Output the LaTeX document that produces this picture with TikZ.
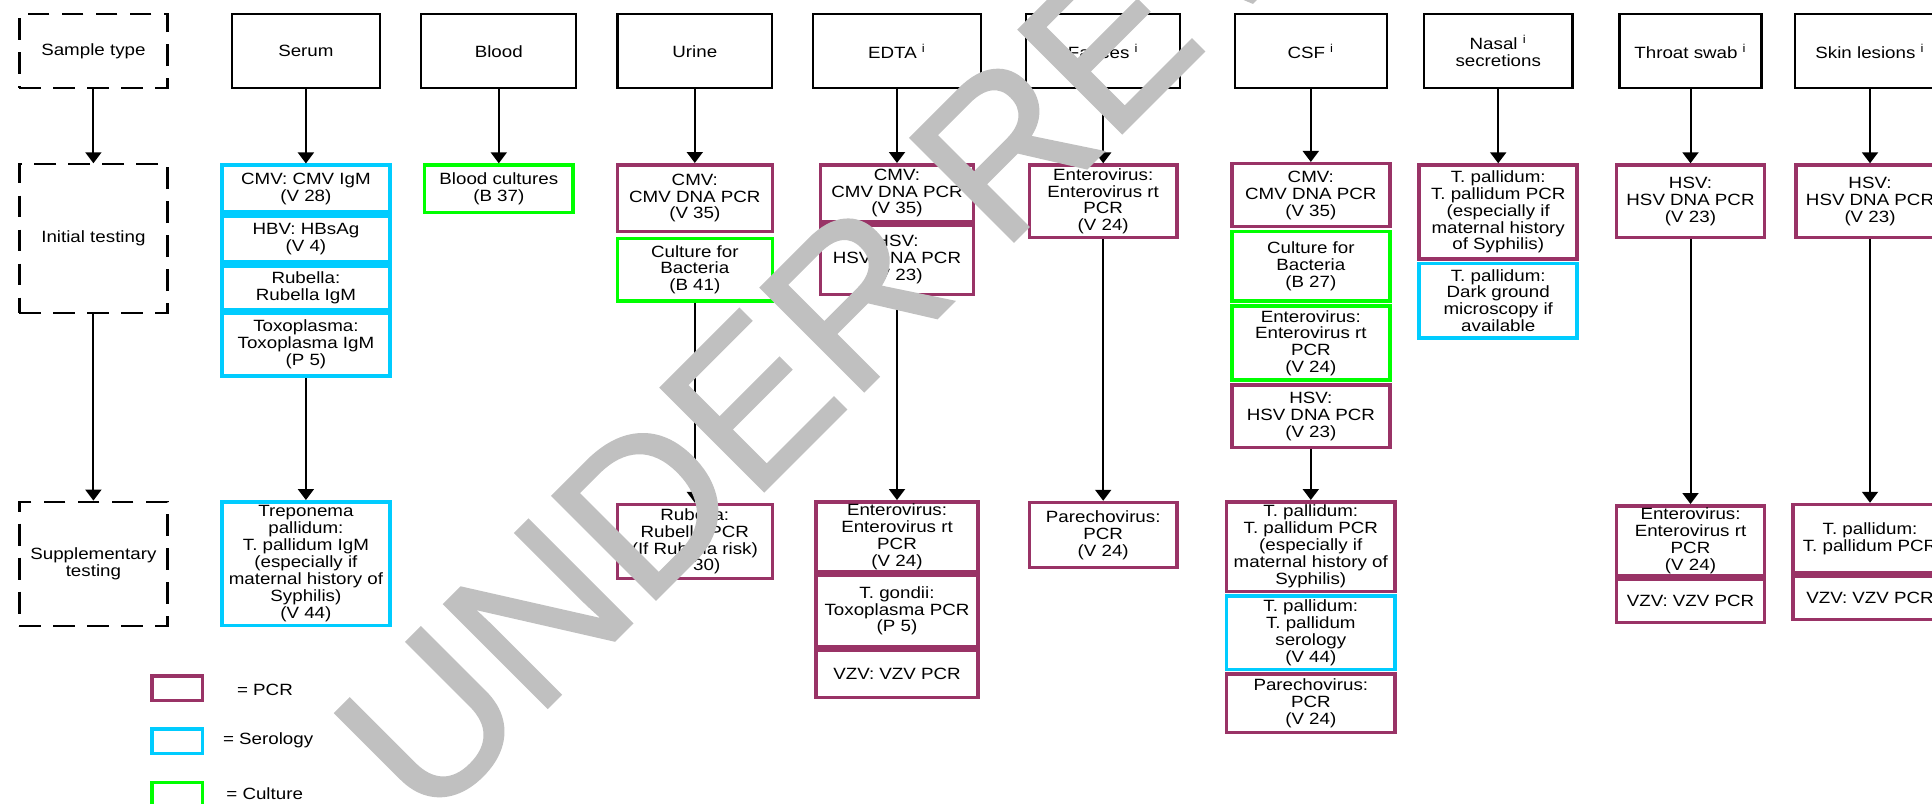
\documentclass[tikz,border=0pt]{standalone}
\usepackage{fontspec}
\setmainfont{Liberation Sans}[FakeStretch=1.15]
\newfontfamily\markfont{Liberation Sans}[FakeBold=1.3]
\usetikzlibrary{arrows.meta}
\definecolor{pcrcol}{RGB}{153,51,102}
\definecolor{serocol}{RGB}{0,204,255}
\definecolor{cultcol}{RGB}{0,255,0}
\definecolor{markgray}{RGB}{192,192,192}

\begin{document}
\begin{tikzpicture}[x=0.5pt, y=-0.5pt, >={Triangle[width=8pt,length=5.5pt]},
    font=\fontsize{8.15}{8.45}\selectfont,
    boxsize/.style 2 args={minimum width=#1*0.5pt, minimum height=#2*0.5pt},
    head_style/.style={rectangle,draw=black,line width=1.1pt,inner sep=0.5pt,align=center},
    dash_style/.style={head_style,dash pattern=on 10.9pt off 6.1pt},
    test_style/.style={rectangle,line width=1.75pt,inner sep=0.5pt,align=center},
    pcr_style/.style={test_style,draw=pcrcol},
    sero_style/.style={test_style,draw=serocol},
    cult_style/.style={test_style,draw=cultcol},
    key_style/.style={anchor=west,inner sep=0pt},
    edge_style/.style={draw=black,line width=1pt},
    mark_style/.style={text=markgray,font=\markfont\fontsize{106}{106}\selectfont,inner sep=0pt}]
  \useasboundingbox (0,0) rectangle (1932,803);
  \clip (0,0) rectangle (1932,803);
  \fill[white] (0,0) rectangle (1932,803);
  % sample types
  \draw
    (93.4,51.2) node[dash_style,boxsize={148}{74}] (sampletype){Sample type}
    (305.9,51.2) node[head_style,boxsize={148}{74}] (serum){Serum}
    (498.8,51.2) node[head_style,boxsize={155}{74}] (blood){Blood}
    (694.8,51.2) node[head_style,boxsize={154.5}{74}] (urine){Urine}
    (897,51.2) node[head_style,boxsize={168.6}{74}] (edta){EDTA \textsuperscript{i}}
    (1103.2,51.2) node[head_style,boxsize={154}{74}] (faeces){Faeces \textsuperscript{i}}
    (1310.8,51.2) node[head_style,boxsize={152}{74}] (csf){CSF \textsuperscript{i}}
    (1498.2,51.2) node[head_style,boxsize={148.5}{74}] (nasal){Nasal \textsuperscript{i}\\secretions}
    (1690.5,51.2) node[head_style,boxsize={142}{74}] (throat){Throat swab \textsuperscript{i}}
    (1870,51.2) node[head_style,boxsize={150}{74}] (skin){Skin lesions \textsuperscript{i}}
    (93.4,238.7) node[dash_style,boxsize={148}{148.7}] (initialtest){Initial testing}
    (93.4,563.7) node[dash_style,boxsize={148}{124}] (supptest){Supplementary\\testing};
  % serum and blood
  \draw
    (305.9,188.7) node[sero_style,boxsize={168}{47}] (serumcmv){CMV: CMV IgM\\(V 28)}
    (305.9,239.2) node[sero_style,boxsize={168}{46}] (serumhbv){HBV: HBsAg\\(V 4)}
    (305.9,287.5) node[sero_style,boxsize={168}{43.5}] (serumrub){Rubella:\\Rubella IgM}
    (305.9,344.4) node[sero_style,boxsize={168}{63.2}] (serumtoxo){Toxoplasma:\\Toxoplasma IgM\\(P 5)}
    (305.9,563.5) node[sero_style,boxsize={168}{123.5}] (serumtp){Treponema\\pallidum:\\T. pallidum IgM\\(especially if\\maternal history of\\Syphilis)\\(V 44)}
    (498.8,188.8) node[cult_style,boxsize={148.5}{47.5}] (bloodcult){Blood cultures\\(B 37)};
  % urine and EDTA
  \draw
    (694.8,198) node[pcr_style,boxsize={155}{66.5}] (urinecmv){CMV:\\CMV DNA PCR\\(V 35)}
    (694.8,269.7) node[cult_style,boxsize={155}{62.5}] (urinecult){Culture for\\Bacteria\\(B 41)}
    (694.8,541.4) node[pcr_style,boxsize={155}{73.8}] (urinerub){Rubella:\\Rubella PCR\\(If Rubella risk)\\(V 30)}
    (897,193) node[pcr_style,boxsize={152.7}{56.5}] (edtacmv){CMV:\\CMV DNA PCR\\(V 35)}
    (897,259.5) node[pcr_style,boxsize={152.7}{69.5}] (edtahsv){HSV:\\HSV DNA PCR\\(V 23)}
    (897,536.7) node[pcr_style,boxsize={162}{69.8}] (edtaentero){Enterovirus:\\Enterovirus rt\\PCR\\(V 24)}
    (897,610.8) node[pcr_style,boxsize={162}{71.5}] (edtatg){T. gondii:\\Toxoplasma PCR\\(P 5)}
    (897,673.8) node[pcr_style,boxsize={162}{47.5}] (edtavzv){VZV: VZV PCR};
  % faeces and CSF
  \draw
    (1103.2,201.3) node[pcr_style,boxsize={147.8}{72.5}] (faecesentero){Enterovirus:\\Enterovirus rt\\PCR\\(V 24)}
    (1103.2,535) node[pcr_style,boxsize={147.8}{65}] (faecespareco){Parechovirus:\\PCR\\(V 24)}
    (1310.8,195.2) node[pcr_style,boxsize={158}{63}] (csfcmv){CMV:\\CMV DNA PCR\\(V 35)}
    (1310.8,266) node[cult_style,boxsize={158}{69.5}] (csfcult){Culture for\\Bacteria\\(B 27)}
    (1310.8,343.2) node[cult_style,boxsize={158}{74}] (csfentero){Enterovirus:\\Enterovirus rt\\PCR\\(V 24)}
    (1310.8,416.2) node[pcr_style,boxsize={158}{62.8}] (csfhsv){HSV:\\HSV DNA PCR\\(V 23)}
    (1310.8,546.5) node[pcr_style,boxsize={168.8}{89.5}] (csftp){T. pallidum:\\T. pallidum PCR\\(especially if\\maternal history of\\Syphilis)}
    (1310.8,632.5) node[sero_style,boxsize={168.8}{73.5}] (csfsero){T. pallidum:\\T. pallidum\\serology\\(V 44)}
    (1310.8,703.2) node[pcr_style,boxsize={168.8}{58.8}] (csfpareco){Parechovirus:\\PCR\\(V 24)};
  % nasal, throat and skin
  \draw
    (1498.2,211.9) node[pcr_style,boxsize={158}{93.7}] (nasaltp){T. pallidum:\\T. pallidum PCR\\(especially if\\maternal history\\of Syphilis)}
    (1498.2,300.6) node[sero_style,boxsize={158}{74.7}] (nasaldark){T. pallidum:\\Dark ground\\microscopy if\\available}
    (1690.5,201.3) node[pcr_style,boxsize={148}{72.5}] (throathsv){HSV:\\HSV DNA PCR\\(V 23)}
    (1690.5,540.5) node[pcr_style,boxsize={148}{69.5}] (throatentero){Enterovirus:\\Enterovirus rt\\PCR\\(V 24)}
    (1690.5,600.7) node[pcr_style,boxsize={148}{43.8}] (throatvzv){VZV: VZV PCR}
    (1870,201.3) node[pcr_style,boxsize={148.5}{72.5}] (skinhsv){HSV:\\HSV DNA PCR\\(V 23)}
    (1870,538.4) node[pcr_style,boxsize={154.5}{67.8}] (skintp){T. pallidum:\\T. pallidum PCR}
    (1870,597.5) node[pcr_style,boxsize={154.5}{43.5}] (skinvzv){VZV: VZV PCR};
  % key
  \draw
    (177.2,688.3) node[pcr_style,boxsize={50.7}{24.5}] (keypcr){}
    (177.2,741.2) node[sero_style,boxsize={50.7}{24.5}] (keysero){}
    (177.2,794.7) node[cult_style,boxsize={50.7}{24.5}] (keycult){}
    (236.7,690) node[key_style] (keypcrtext){= PCR}
    (222.7,740) node[key_style] (keyserotext){= Serology}
    (226,794) node[key_style] (keyculttext){= Culture};
  \begin{scope}[->]
    \draw[edge_style] (sampletype) to (initialtest);
    \draw[edge_style] (initialtest) to (supptest);
    \draw[edge_style] (serum) to (serumcmv);
    \draw[edge_style] (serumtoxo) to (serumtp);
    \draw[edge_style] (blood) to (bloodcult);
    \draw[edge_style] (urine) to (urinecmv);
    \draw[edge_style] (urinecult) to (urinerub);
    \draw[edge_style] (edta) to (edtacmv);
    \draw[edge_style] (edtahsv) to (edtaentero);
    \draw[edge_style] (faeces) to (faecesentero);
    \draw[edge_style] (faecesentero) to (faecespareco);
    \draw[edge_style] (csf) to (csfcmv);
    \draw[edge_style] (csfhsv) to (csftp);
    \draw[edge_style] (nasal) to (nasaltp);
    \draw[edge_style] (throat) to (throathsv);
    \draw[edge_style] (throathsv) to (throatentero);
    \draw[edge_style] (skin) to (skinhsv);
    \draw[edge_style] (skinhsv) to (skintp);
  \end{scope}
  \node[mark_style,rotate=45,anchor=base west] (watermark) at (427,828) {UNDER REVIEW};
\end{tikzpicture}
\end{document}
